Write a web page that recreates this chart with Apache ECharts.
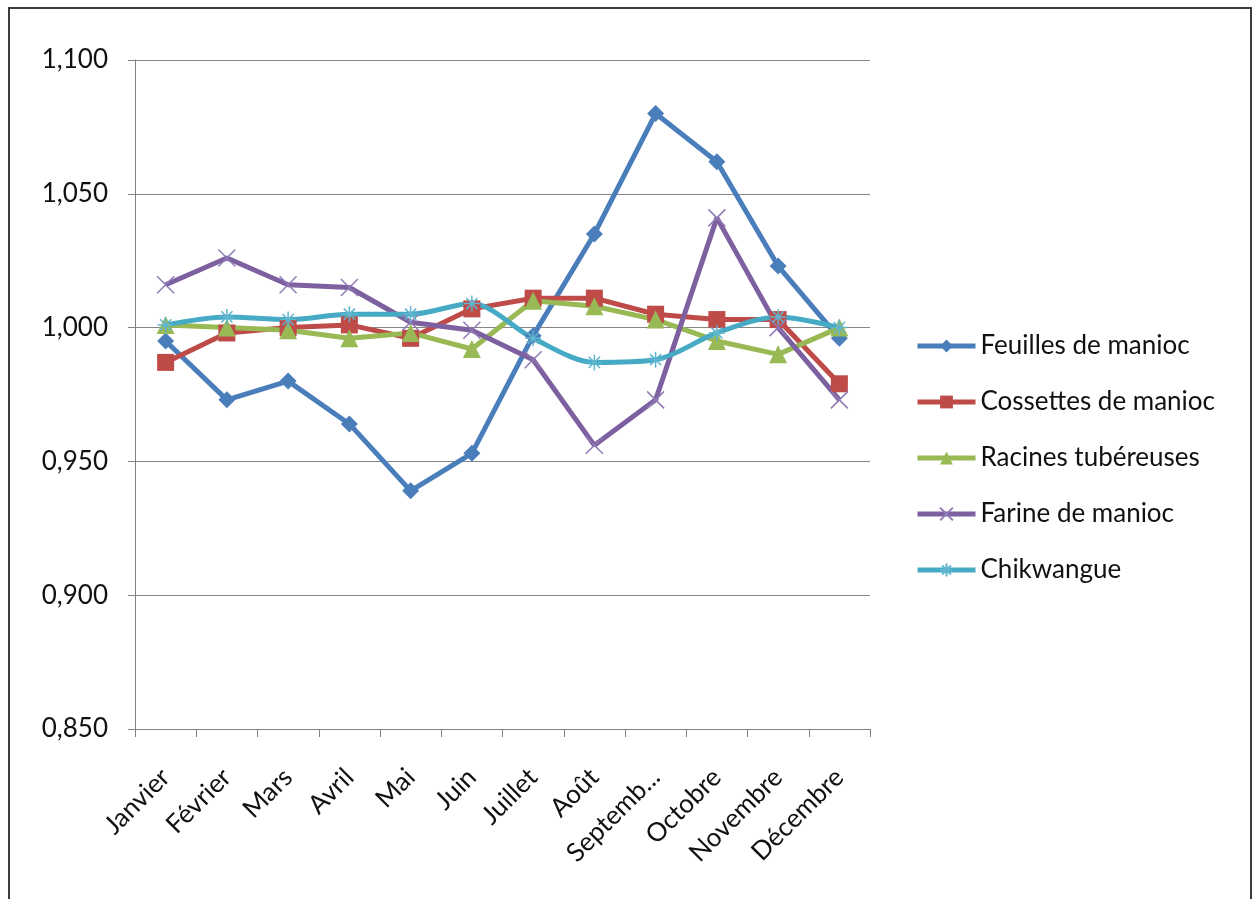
<!DOCTYPE html>
<html>
<head>
<meta charset="utf-8">
<script src="https://cdn.jsdelivr.net/npm/echarts@6/dist/echarts.min.js"></script>
<style>
  html, body { margin: 0; padding: 0; background: #fff; }
  #main { width: 1258px; height: 899px; }
</style>
</head>
<body>
<div id="main"></div>
<script>
var months = ['Janvier', 'Février', 'Mars', 'Avril', 'Mai', 'Juin', 'Juillet', 'Août', 'Septembre', 'Octobre', 'Novembre', 'Décembre']
var feuilles = [0.995, 0.973, 0.980, 0.964, 0.939, 0.953, 0.997, 1.035, 1.080, 1.062, 1.023, 0.996]
var cossettes = [0.987, 0.998, 1.000, 1.001, 0.996, 1.007, 1.011, 1.011, 1.005, 1.003, 1.003, 0.979]
var racines = [1.001, 1.000, 0.999, 0.996, 0.998, 0.992, 1.010, 1.008, 1.003, 0.995, 0.990, 1.000]
var farine = [1.016, 1.026, 1.016, 1.015, 1.002, 0.999, 0.988, 0.956, 0.973, 1.041, 1.000, 0.973]
var chikwangue = [1.001, 1.004, 1.003, 1.005, 1.005, 1.009, 0.996, 0.987, 0.988, 0.998, 1.004, 1.000]
var yTicks = { min: 0.85, max: 1.1, step: 0.05 }

var font = 'Lato, "Open Sans", sans-serif'
var crossPath = 'path://M0,0L10,10M10,0L0,10'
var starPath = 'path://M5,0L5,10M0,5L10,5M1.5,1.5L8.5,8.5M8.5,1.5L1.5,8.5'

function lineSerie(name, data, color, symbol, size, extra) {
    var s = {
        name: name,
        type: 'line',
        data: data,
        symbol: symbol,
        symbolSize: size,
        showAllSymbol: true,
        lineStyle: { color: color, width: 5 },
        itemStyle: { color: color, borderColor: color, borderWidth: 0 }
    }
    for (var k in extra) s[k] = extra[k]
    return s
}

var chart = echarts.init(document.getElementById('main'))
chart.setOption({
    animation: false,
    backgroundColor: '#fff',
    graphic: [{
        type: 'rect',
        shape: { x: 9, y: 8, width: 1242, height: 900 },
        style: { fill: 'none', stroke: '#3c3c3c', lineWidth: 2 }
    }],
    grid: { left: 135, top: 60, right: 388, bottom: 170, containLabel: false },
    legend: {
        orient: 'vertical',
        left: 910,
        top: 328,
        itemWidth: 58,
        itemHeight: 16,
        itemGap: 30,
        lineStyle: { width: 5 },
        textStyle: { fontFamily: font, fontSize: 26, color: '#111' },
        data: ['Feuilles de manioc', 'Cossettes de manioc', 'Racines tubéreuses', 'Farine de manioc', 'Chikwangue']
    },
    xAxis: {
        type: 'category',
        data: months,
        boundaryGap: true,
        axisLine: { lineStyle: { color: '#808080', width: 1 } },
        axisTick: { show: true, length: 8, lineStyle: { color: '#808080' } },
        axisLabel: {
            rotate: 45,
            interval: 0,
            margin: 44,
            fontFamily: font,
            fontSize: 26,
            color: '#111',
            formatter: function (v) { return v.length > 8 ? v.slice(0, 7) + '...' : v }
        },
        splitLine: { show: false }
    },
    yAxis: {
        type: 'value',
        min: yTicks.min,
        max: yTicks.max,
        interval: yTicks.step,
        axisLine: { show: true, lineStyle: { color: '#808080', width: 1 } },
        axisTick: { show: true, length: 7, lineStyle: { color: '#808080' } },
        axisLabel: {
            margin: 27,
            fontFamily: font,
            fontSize: 26,
            color: '#111',
            formatter: function (v) { return v.toFixed(3).replace('.', ',') }
        },
        splitLine: { show: true, lineStyle: { color: '#868686', width: 1 } }
    },
    series: [
        lineSerie('Feuilles de manioc', feuilles, '#4A7EBB', 'diamond', 17, {}),
        lineSerie('Cossettes de manioc', cossettes, '#BE4B48', 'rect', 17, {}),
        lineSerie('Racines tubéreuses', racines, '#98B954', 'triangle', 18, {}),
        lineSerie('Farine de manioc', farine, '#7D60A0', crossPath, 17, {
            itemStyle: { color: '#8f7ab5', borderColor: '#8f7ab5', borderWidth: 1.5 }
        }),
        lineSerie('Chikwangue', chikwangue, '#46AAC5', starPath, 16, {
            smooth: 0.3,
            itemStyle: { color: '#5fb6cf', borderColor: '#5fb6cf', borderWidth: 1.5 }
        })
    ]
})
</script>
</body>
</html>
